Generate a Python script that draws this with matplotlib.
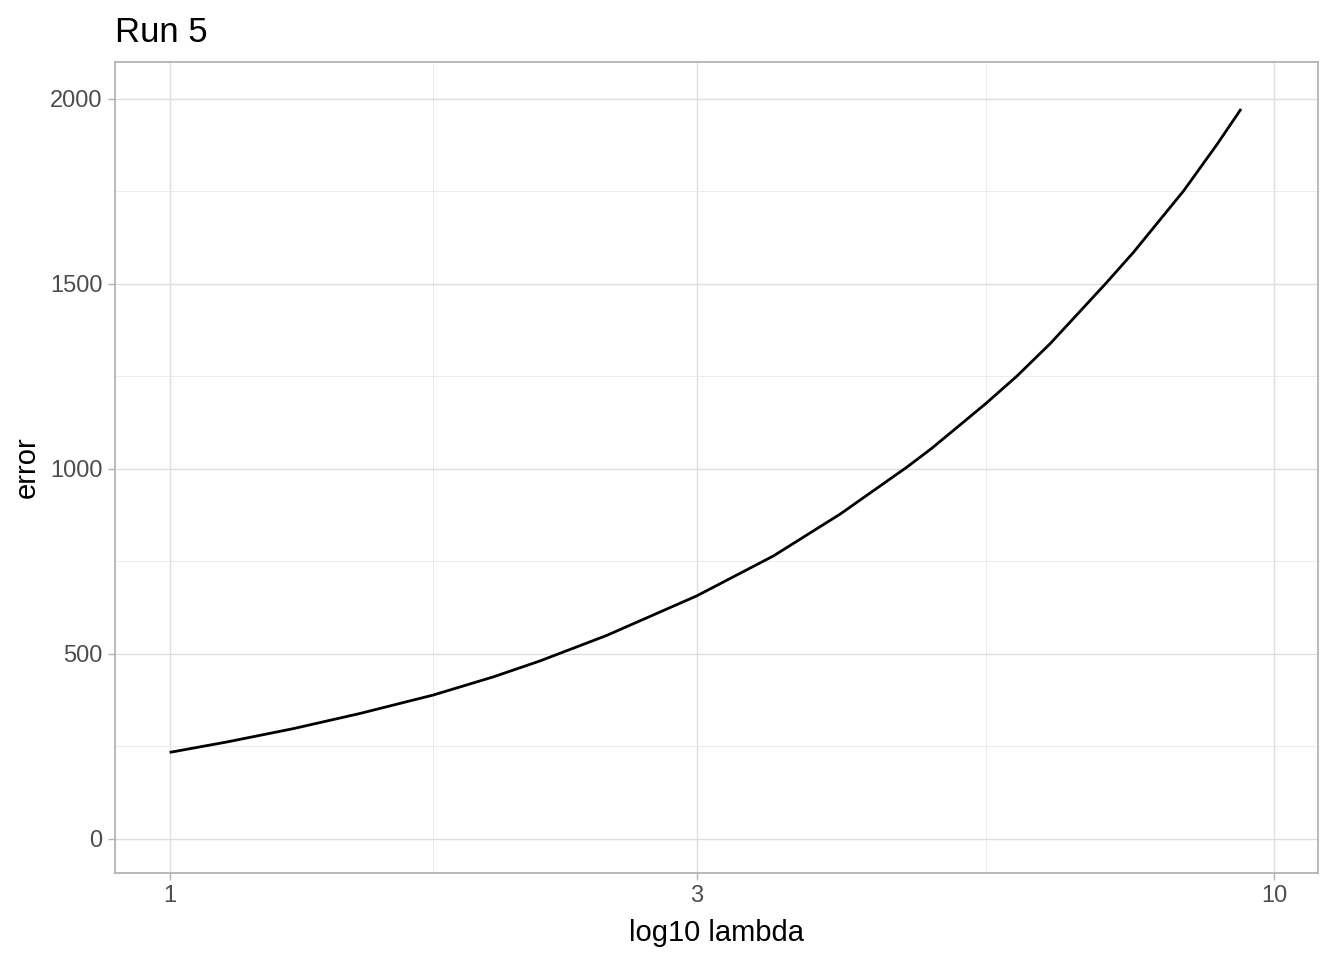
import numpy as np
import matplotlib
matplotlib.use('Agg')
import matplotlib.pyplot as plt
from matplotlib.ticker import FixedLocator, NullFormatter

plt.rcParams['font.family'] = ['Liberation Sans', 'DejaVu Sans']

# values
lam = [1.000, 1.126, 1.293, 1.486, 1.732, 1.963, 2.163, 2.486, 3.000,
       3.520, 4.045, 4.649, 4.897, 5.481, 5.847, 6.268, 7.030, 7.457,
       8.278, 8.872, 9.329]
err = [234, 262, 298, 339, 389, 438, 481, 550, 657,
       765, 878, 1005, 1056, 1177, 1251, 1339, 1500, 1586,
       1752, 1877, 1973]

x_ticks = [1, 3, 10]
x_minor = [np.sqrt(3), np.sqrt(30)]
y_ticks = [0, 500, 1000, 1500, 2000]
y_minor = [250, 750, 1250, 1750]

fig = plt.figure(figsize=(13.44, 9.6), dpi=100)
ax = fig.add_axes([115/1344, 1 - 873/960, (1318 - 115)/1344, (873 - 62)/960])

ax.plot(lam, err, color='black', lw=2.0, solid_capstyle='butt',
        solid_joinstyle='round', zorder=3)

ax.set_xscale('log')
ax.set_xlim(10**-0.0495, 10**1.0395)
ax.set_ylim(-92, 2100)

ax.xaxis.set_major_locator(FixedLocator(x_ticks))
ax.xaxis.set_minor_locator(FixedLocator(x_minor))
ax.xaxis.set_minor_formatter(NullFormatter())
ax.set_xticklabels([str(t) for t in x_ticks])
ax.yaxis.set_major_locator(FixedLocator(y_ticks))
ax.yaxis.set_minor_locator(FixedLocator(y_minor))

ax.grid(which='major', color='#dedede', lw=1.0)
ax.grid(which='minor', color='#e8e8e8', lw=0.6)
ax.set_axisbelow(True)

for s in ax.spines.values():
    s.set_color('#b3b3b3')
    s.set_linewidth(1.3)

ax.tick_params(which='major', length=5, width=1.0, color='#b3b3b3',
               labelsize=17, labelcolor='#4d4d4d', pad=4)
ax.tick_params(which='minor', length=0)

ax.set_xlabel('log10 lambda', fontsize=21, labelpad=8)
ax.set_ylabel('error', fontsize=21, labelpad=7)
fig.text(115/1344, 1 - 42/960, 'Run 5', fontsize=25, ha='left', va='baseline')

fig.savefig('out.png', dpi=100)
